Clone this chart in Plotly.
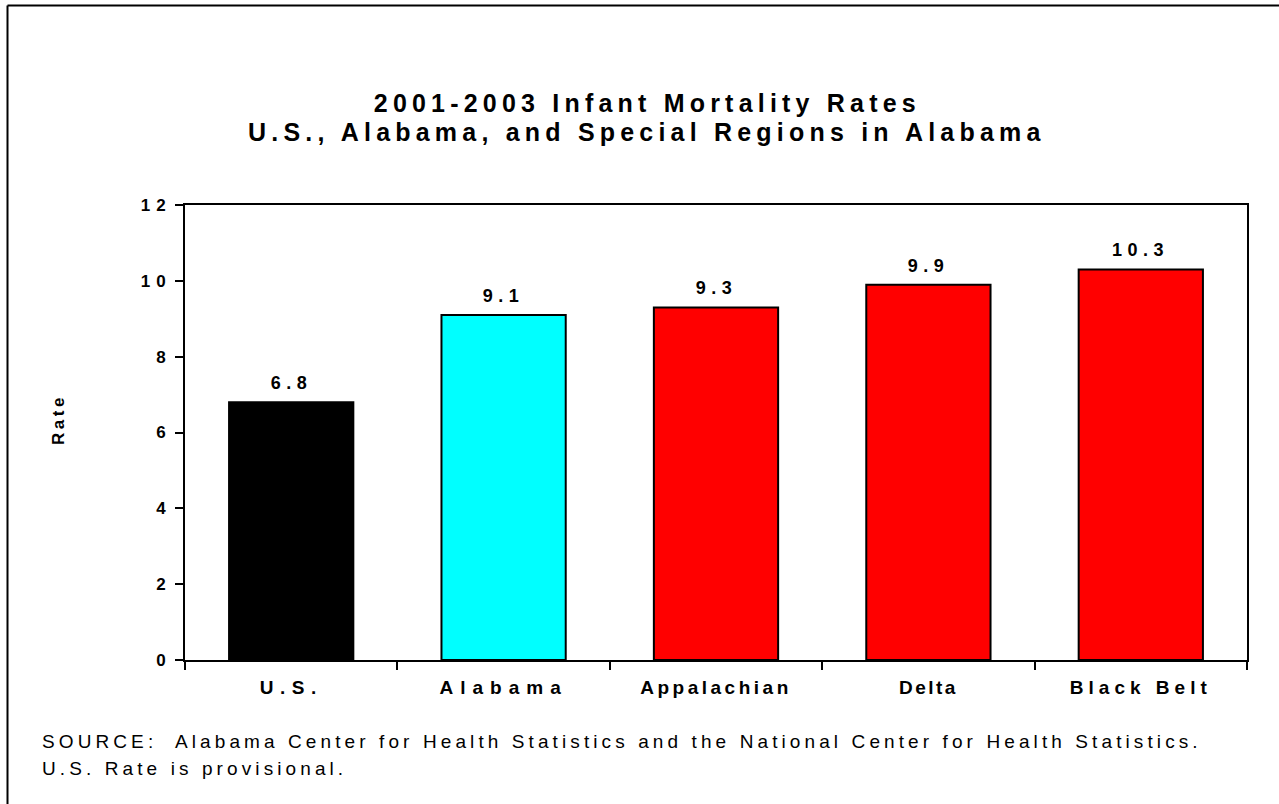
import plotly.graph_objects as go

# ---------------- data ----------------
categories = ["U.S.", "Alabama", "Appalachian", "Delta", "Black Belt"]
rates = [6.8, 9.1, 9.3, 9.9, 10.3]
bar_colors = ["#000000", "#00FFFF", "#FF0000", "#FF0000", "#FF0000"]
rate_labels = ["6.8", "9.1", "9.3", "9.9", "10.3"]
y_ticks = [0, 2, 4, 6, 8, 10, 12]
title_lines = ["2001-2003 Infant Mortality Rates",
               "U.S., Alabama, and Special Regions in Alabama"]
y_title = "Rate"
source_lines = ["SOURCE:  Alabama Center for Health Statistics and the National Center for Health Statistics.",
                "U.S. Rate is provisional."]

# ---------------- layout geometry ----------------
W, H = 1279, 804
L, R, T, B = 185, 32, 205, 144
PW, PH = W - L - R, H - T - B

def px(xp):
    return (xp - L) / PW

def py(yp):
    return (H - B - yp) / PH

FONT = "Liberation Sans, Arial, sans-serif"

fig = go.Figure(
    go.Bar(
        x=categories,
        y=rates,
        width=0.585,
        marker=dict(color=bar_colors, line=dict(color="black", width=2)),
        hoverinfo="skip",
    )
)

annotations = []
for c, v, t in zip(categories, rates, rate_labels):
    annotations.append(dict(x=c, y=v, xref="x", yref="y", text=t, showarrow=False,
                            yanchor="bottom", yshift=7,
                            font=dict(family=FONT, size=18, color="black", weight="bold")))
for i, (line, yc) in enumerate(zip(title_lines, [103, 132])):
    annotations.append(dict(x=px(647), y=py(yc), xref="paper", yref="paper", text=line,
                            showarrow=False, xanchor="center", yanchor="middle",
                            font=dict(family=FONT, size=25, color="black", weight="bold")))
annotations.append(dict(x=px(58), y=py(420), xref="paper", yref="paper", text=y_title,
                        showarrow=False, textangle=-90, xanchor="center", yanchor="middle",
                        font=dict(family=FONT, size=17, color="black", weight="bold")))
for line, yc in zip(source_lines, [741, 768]):
    annotations.append(dict(x=px(40), y=py(yc), xref="paper", yref="paper", text=line,
                            showarrow=False, xanchor="left", yanchor="middle", align="left",
                            font=dict(family=FONT, size=19, color="black")))

shapes = [
    dict(type="line", xref="paper", yref="paper", x0=px(7.5), x1=px(W + 5), y0=py(5.5), y1=py(5.5),
         line=dict(color="black", width=2)),
    dict(type="line", xref="paper", yref="paper", x0=px(7.5), x1=px(7.5), y0=py(5.5), y1=py(H + 5),
         line=dict(color="black", width=2)),
]

fig.update_layout(
    width=W, height=H,
    margin=dict(l=L, r=R, t=T, b=B, pad=0),
    paper_bgcolor="white", plot_bgcolor="white",
    showlegend=False,
    annotations=annotations,
    shapes=shapes,
    xaxis=dict(
        showline=True, linecolor="black", linewidth=2, mirror=True,
        ticks="outside", tickson="boundaries", ticklen=8, tickwidth=2, tickcolor="black",
        showgrid=False, zeroline=False,
        tickfont=dict(family=FONT, size=19, color="black", weight="bold"),
        ticklabelstandoff=9,
        fixedrange=True,
    ),
    yaxis=dict(
        range=[0, 12], tickvals=y_ticks, ticktext=[str(v) for v in y_ticks],
        showline=True, linecolor="black", linewidth=2, mirror=True,
        ticks="outside", ticklen=8, tickwidth=2, tickcolor="black",
        showgrid=False, zeroline=False,
        tickfont=dict(family=FONT, size=17, color="black", weight="bold"),
        fixedrange=True,
    ),
)

post_script = """
var st = document.createElement('style');
st.textContent = 'html,body{margin:0;padding:0;overflow:hidden}' +
  '.main-svg .ytick text{letter-spacing:6px}' +
  '.main-svg .xtick text{letter-spacing:5px}' +
  '.main-svg .xtick text[data-unformatted="U.S."]{letter-spacing:6.5px}' +
  '.main-svg .xtick text[data-unformatted="Alabama"]{letter-spacing:7px}' +
  '.main-svg .xtick text[data-unformatted="Appalachian"]{letter-spacing:3.5px}' +
  '.main-svg .xtick text[data-unformatted="Delta"]{letter-spacing:2.5px}' +
  '.main-svg .xtick text[data-unformatted="Black Belt"]{letter-spacing:5px}' +
  '.main-svg .annotation .annotation-text{letter-spacing:5.5px}' +
  '.main-svg .annotation[data-index="5"] .annotation-text{letter-spacing:5.2px}' +
  '.main-svg .annotation[data-index="6"] .annotation-text{letter-spacing:5.2px}' +
  '.main-svg .annotation[data-index="7"] .annotation-text{letter-spacing:3.5px}' +
  '.main-svg .annotation[data-index="8"] .annotation-text{letter-spacing:4.1px}' +
  '.main-svg .annotation[data-index="9"] .annotation-text{letter-spacing:4.1px}';
document.head.appendChild(st);
"""

fig.write_html("out.html", config={"displayModeBar": False, "staticPlot": True}, post_script=post_script)
